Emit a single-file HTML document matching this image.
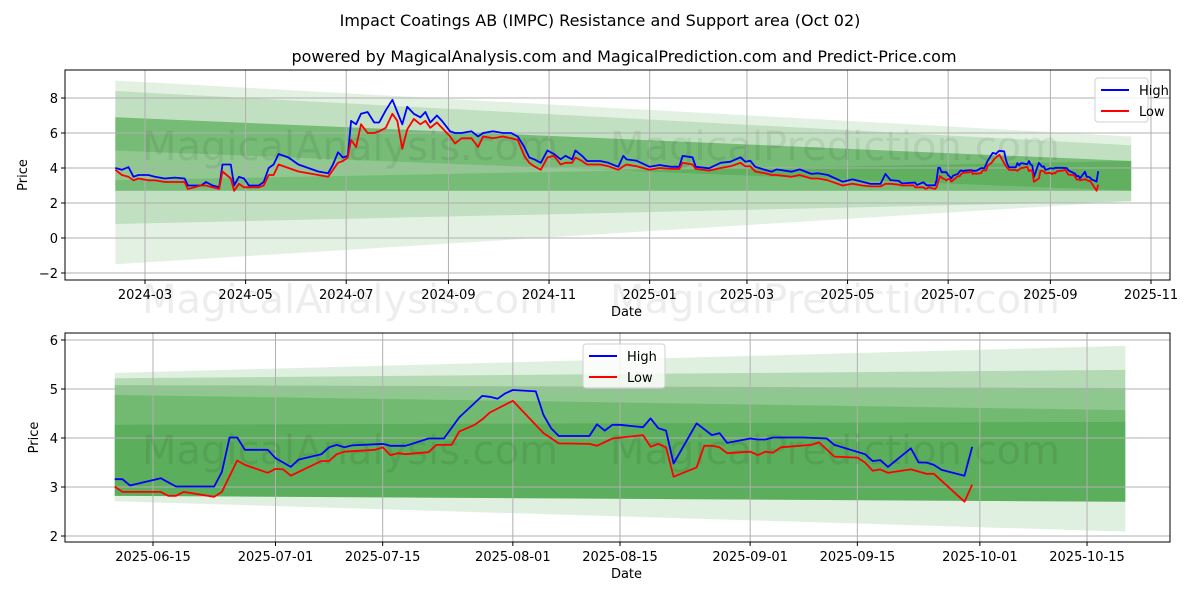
<!DOCTYPE html>
<html><head><meta charset="utf-8">
<style>
html,body{margin:0;padding:0;background:#fff;}
svg{display:block;font-family:"DejaVu Sans","Liberation Sans",sans-serif;}
</style></head>
<body>
<svg id="chart" width="1200" height="600" viewBox="0 0 1200 600" xmlns="http://www.w3.org/2000/svg">
<text x="600" y="26" font-size="16" text-anchor="middle">Impact Coatings AB (IMPC) Resistance and Support area (Oct 02)</text>
<text x="624" y="62" font-size="16" text-anchor="middle">powered by MagicalAnalysis.com and MagicalPrediction.com and Predict-Price.com</text>
<g id="top"></g>
<g id="bot"></g>
</svg>
<script>
// ---------- TOP CHART DATA ----------
const topEarlyDates = ["2024-02-12","2024-02-16","2024-02-20","2024-02-23","2024-02-26","2024-03-03","2024-03-07","2024-03-13","2024-03-19","2024-03-25","2024-03-27","2024-04-04","2024-04-07","2024-04-11","2024-04-15","2024-04-17","2024-04-22","2024-04-24","2024-04-27","2024-04-30","2024-05-03","2024-05-09","2024-05-12","2024-05-15","2024-05-18","2024-05-21","2024-05-27","2024-06-02","2024-06-08","2024-06-14","2024-06-20","2024-06-23","2024-06-26","2024-06-29","2024-07-02","2024-07-04","2024-07-07","2024-07-10","2024-07-14","2024-07-18","2024-07-21","2024-07-25","2024-07-29","2024-08-01","2024-08-04","2024-08-07","2024-08-11","2024-08-15","2024-08-18","2024-08-21","2024-08-25","2024-08-28","2024-09-02","2024-09-05","2024-09-09","2024-09-15","2024-09-19","2024-09-22","2024-09-28","2024-10-04","2024-10-09","2024-10-13","2024-10-17","2024-10-20","2024-10-23","2024-10-27","2024-10-31","2024-11-04","2024-11-08","2024-11-11","2024-11-15","2024-11-17","2024-11-21","2024-11-24","2024-12-02","2024-12-07","2024-12-13","2024-12-16","2024-12-18","2024-12-24","2025-01-01","2025-01-07","2025-01-14","2025-01-19","2025-01-21","2025-01-27","2025-01-29","2025-02-06","2025-02-13","2025-02-19","2025-02-25","2025-02-28","2025-03-03","2025-03-06","2025-03-12","2025-03-16","2025-03-19","2025-03-28","2025-04-02","2025-04-09","2025-04-13","2025-04-19","2025-04-28","2025-05-04","2025-05-10","2025-05-15","2025-05-21","2025-05-24","2025-05-27","2025-06-01","2025-06-03"];
const topEarlyHigh = [4.0,3.9,4.05,3.5,3.6,3.6,3.5,3.4,3.45,3.4,3.0,3.0,3.2,3.0,2.9,4.2,4.2,3.0,3.5,3.4,3.0,3.0,3.2,4.0,4.2,4.8,4.6,4.2,4.0,3.8,3.7,4.2,4.9,4.6,4.7,6.7,6.5,7.1,7.2,6.6,6.6,7.3,7.9,7.2,6.5,7.5,7.1,6.9,7.2,6.6,7.0,6.7,6.1,6.0,6.0,6.1,5.8,6.0,6.1,6.0,6.0,5.8,5.2,4.6,4.5,4.3,5.0,4.8,4.5,4.7,4.5,5.0,4.7,4.4,4.4,4.3,4.07,4.69,4.49,4.42,4.07,4.17,4.07,4.07,4.69,4.61,4.07,3.98,4.30,4.36,4.61,4.36,4.42,4.07,3.89,3.79,3.92,3.79,3.92,3.66,3.70,3.60,3.22,3.35,3.22,3.09,3.09,3.66,3.31,3.26,3.12];
const topEarlyLow = [3.9,3.6,3.5,3.3,3.4,3.3,3.3,3.2,3.2,3.2,2.8,3.0,3.0,2.9,2.8,3.8,3.4,2.7,3.1,2.9,2.9,2.9,3.0,3.6,3.6,4.2,4.0,3.8,3.7,3.6,3.5,3.9,4.3,4.4,4.6,5.6,5.2,6.5,6.0,6.0,6.1,6.3,7.1,6.7,5.1,6.2,6.8,6.5,6.7,6.3,6.6,6.3,5.8,5.4,5.7,5.7,5.2,5.8,5.7,5.8,5.7,5.6,4.7,4.3,4.1,3.9,4.6,4.7,4.2,4.3,4.3,4.6,4.4,4.2,4.2,4.1,3.9,4.1,4.2,4.1,3.9,4.0,3.95,3.95,4.3,4.2,3.95,3.85,4.0,4.1,4.3,4.1,4.1,3.8,3.7,3.6,3.6,3.5,3.6,3.4,3.4,3.3,3.0,3.1,3.0,2.95,2.95,3.1,3.1,3.05,3.0];
const topXTicks = ["2024-03","2024-05","2024-07","2024-09","2024-11","2025-01","2025-03","2025-05","2025-07","2025-09","2025-11"];
const topYTicks = [-2,0,2,4,6,8];
const topBandStart = "2024-02-12", topBandEnd = "2025-10-20";
const topBandsStartLow  = [-1.5,0.8,2.7,5.0,2.7];
const topBandsStartHigh = [9.0,8.4,6.9,6.9,3.3];
const topBandsEndLow    = [2.1,2.1,2.7,2.7,2.7];
const topBandsEndHigh   = [5.8,5.3,4.4,4.4,4.4];
const topBandsAlpha     = [0.11,0.15,0.25,0.18,0.18];

// ---------- BOTTOM CHART DATA ----------
const botHighDates = ["2025-06-10","2025-06-11","2025-06-12","2025-06-16","2025-06-18","2025-06-23","2025-06-24","2025-06-25","2025-06-26","2025-06-27","2025-06-30","2025-07-01","2025-07-03","2025-07-04","2025-07-07","2025-07-08","2025-07-09","2025-07-10","2025-07-11","2025-07-15","2025-07-16","2025-07-18","2025-07-21","2025-07-23","2025-07-25","2025-07-28","2025-07-29","2025-07-30","2025-07-31","2025-08-01","2025-08-04","2025-08-05","2025-08-06","2025-08-07","2025-08-11","2025-08-12","2025-08-13","2025-08-14","2025-08-15","2025-08-18","2025-08-19","2025-08-20","2025-08-21","2025-08-22","2025-08-25","2025-08-27","2025-08-28","2025-08-29","2025-09-01","2025-09-02","2025-09-03","2025-09-04","2025-09-08","2025-09-11","2025-09-12","2025-09-16","2025-09-17","2025-09-18","2025-09-19","2025-09-22","2025-09-23","2025-09-24","2025-09-25","2025-09-26","2025-09-29","2025-09-30"];
const botHigh = [3.16,3.16,3.03,3.18,3.01,3.01,3.31,4.01,4.01,3.76,3.76,3.59,3.41,3.56,3.67,3.81,3.86,3.81,3.85,3.88,3.84,3.84,3.99,3.99,4.42,4.86,4.84,4.80,4.91,4.98,4.95,4.47,4.20,4.04,4.04,4.28,4.15,4.27,4.27,4.22,4.40,4.20,4.15,3.48,4.30,4.06,4.10,3.90,3.99,3.97,3.97,4.01,4.01,3.99,3.86,3.67,3.53,3.55,3.41,3.79,3.50,3.50,3.45,3.35,3.23,3.82];
const botLowDates = ["2025-06-10","2025-06-11","2025-06-16","2025-06-17","2025-06-18","2025-06-19","2025-06-23","2025-06-24","2025-06-26","2025-06-27","2025-06-30","2025-07-01","2025-07-02","2025-07-03","2025-07-07","2025-07-08","2025-07-09","2025-07-10","2025-07-14","2025-07-15","2025-07-16","2025-07-17","2025-07-18","2025-07-21","2025-07-22","2025-07-24","2025-07-25","2025-07-27","2025-07-28","2025-07-29","2025-08-01","2025-08-05","2025-08-07","2025-08-11","2025-08-12","2025-08-14","2025-08-18","2025-08-19","2025-08-20","2025-08-21","2025-08-22","2025-08-25","2025-08-26","2025-08-27","2025-08-28","2025-08-29","2025-09-01","2025-09-02","2025-09-03","2025-09-04","2025-09-05","2025-09-09","2025-09-10","2025-09-12","2025-09-15","2025-09-16","2025-09-17","2025-09-18","2025-09-19","2025-09-22","2025-09-24","2025-09-25","2025-09-29","2025-09-30"];
const botLow = [3.01,2.90,2.90,2.82,2.82,2.90,2.80,2.90,3.54,3.45,3.29,3.37,3.36,3.23,3.53,3.53,3.67,3.72,3.76,3.81,3.65,3.69,3.67,3.71,3.86,3.86,4.13,4.27,4.38,4.52,4.76,4.10,3.89,3.88,3.84,3.99,4.06,3.82,3.88,3.81,3.21,3.40,3.84,3.84,3.81,3.69,3.72,3.65,3.72,3.70,3.81,3.86,3.91,3.62,3.60,3.50,3.33,3.36,3.29,3.36,3.27,3.27,2.70,3.05];
const botXTicks = ["2025-06-15","2025-07-01","2025-07-15","2025-08-01","2025-08-15","2025-09-01","2025-09-15","2025-10-01","2025-10-15"];
const botYTicks = [2,3,4,5,6];
const botBandStart = "2025-06-10", botBandEnd = "2025-10-20";
const botBandsStartLow  = [2.71,2.82,2.82,2.82,2.82];
const botBandsStartHigh = [5.33,5.22,5.08,4.88,4.27];
const botBandsEndLow    = [2.09,2.70,2.70,2.70,2.70];
const botBandsEndHigh   = [5.88,5.39,5.02,4.57,4.33];
const botBandsAlpha     = [0.12,0.2,0.2,0.2,0.2];

const NS="http://www.w3.org/2000/svg";
function mk(tag, attrs, parent){const e=document.createElementNS(NS,tag);for(const k in attrs)e.setAttribute(k,attrs[k]);parent.appendChild(e);return e;}
function ms(s){const p=s.split("-").map(Number);return Date.UTC(p[0],p[1]-1,p[2]||1);}
const DAY=86400000;

function drawChart(g, cfg){
  const xs = d => cfg.x0px + (ms(d)-ms(cfg.x0date))/DAY*cfg.pxPerDay;
  const ys = v => cfg.y0px - (v-cfg.y0val)*cfg.pxPerUnit;
  // bands
  for(let i=0;i<cfg.bSL.length;i++){
    const xa=xs(cfg.bStart), xb=xs(cfg.bEnd);
    const p=mk("polygon",{points:`${xa},${ys(cfg.bSH[i])} ${xb},${ys(cfg.bEH[i])} ${xb},${ys(cfg.bEL[i])} ${xa},${ys(cfg.bSL[i])}`,fill:"#008000","fill-opacity":cfg.bA[i]},g);
    
    
  }
  // grid
  cfg.xt.forEach(t=>{const x=xs(t);
    const l=mk("line",{x1:x,x2:x,y1:cfg.top,y2:cfg.bottom,stroke:"#b0b0b0","stroke-width":1},g);
    
    
    mk("line",{x1:x,x2:x,y1:cfg.bottom,y2:cfg.bottom+4,stroke:"#000"},g);
    const tx=mk("text",{x:x,y:cfg.bottom+19,"font-size":13,"text-anchor":"middle"},g);tx.textContent=t;
    
    
  });
  cfg.yt.forEach(v=>{const y=ys(v);
    const l=mk("line",{x1:cfg.left,x2:cfg.right,y1:y,y2:y,stroke:"#b0b0b0","stroke-width":1},g);
    
    
    mk("line",{x1:cfg.left-4,x2:cfg.left,y1:y,y2:y,stroke:"#000"},g);
    const tx=mk("text",{x:cfg.left-7,y:y+5,"font-size":13,"text-anchor":"end"},g);tx.textContent=(v<0?"\u2212"+(-v):String(v));
    
    
  });
  // watermarks
  cfg.wm.forEach(w=>{const t=mk("text",{x:w[0],y:w[1],"font-size":40,"text-anchor":"middle",fill:"#000","fill-opacity":0.07},g);t.textContent=w[2];
    
    });
  // lines
  function line(dates, vals, color, name){
    const pts=dates.map((d,i)=>xs(d).toFixed(1)+","+ys(vals[i]).toFixed(1)).join(" ");
    const p=mk("polyline",{points:pts,fill:"none",stroke:color,"stroke-width":1.8,"stroke-linejoin":"round"},g);
    
    
  }
  line(cfg.hd,cfg.hv,"#0000ff","high-line");
  line(cfg.ld,cfg.lv,"#ff0000","low-line");
  // frame
  const f=mk("rect",{x:cfg.left,y:cfg.top,width:cfg.right-cfg.left,height:cfg.bottom-cfg.top,fill:"none",stroke:"#000","stroke-width":1},g);
  
  
  // axis labels
  const xl=mk("text",{x:(cfg.left+cfg.right)/2+9,y:cfg.bottom+36,"font-size":13,"text-anchor":"middle"},g);xl.textContent="Date";
  
  
  const yx=cfg.ylabX, yy=(cfg.top+cfg.bottom)/2;
  const yl=mk("text",{x:yx,y:yy,"font-size":13,"text-anchor":"middle",transform:`rotate(-90 ${yx} ${yy})`},g);yl.textContent="Price";
  
  
  // legend
  const L=cfg.leg;
  const lg=mk("g",{},g);
  
  
  mk("rect",{x:L[0],y:L[1],width:L[2],height:44,rx:3,fill:"#fff","fill-opacity":0.8,stroke:"#d0d0d0"},lg);
  [["High","#0000ff"],["Low","#ff0000"]].forEach((e,i)=>{
    const y=L[1]+12+i*21;
    mk("line",{x1:L[0]+6,x2:L[0]+34,y1:y,y2:y,stroke:e[1],"stroke-width":2},lg);
    const t=mk("text",{x:L[0]+44,y:y+5,"font-size":13},lg);t.textContent=e[0];
    
    
  });
}

drawChart(document.getElementById("top"),{
  left:65,right:1170,top:70,bottom:280,
  x0date:"2024-03-01",x0px:145,pxPerDay:1006/610,
  y0val:0,y0px:238,pxPerUnit:17.5,
  xt:topXTicks,yt:topYTicks,
  bStart:topBandStart,bEnd:topBandEnd,bSL:topBandsStartLow,bSH:topBandsStartHigh,bEL:topBandsEndLow,bEH:topBandsEndHigh,bA:topBandsAlpha,
  hd:topEarlyDates.concat(botHighDates),hv:topEarlyHigh.concat(botHigh),
  ld:topEarlyDates.concat(botLowDates),lv:topEarlyLow.concat(botLow),
  wm:[[350,160,"MagicalAnalysis.com"],[835,160,"MagicalPrediction.com"],[350,313,"MagicalAnalysis.com"],[835,313,"MagicalPrediction.com"]],
  ylabX:27,leg:[1095,78,53]
});
drawChart(document.getElementById("bot"),{
  left:65,right:1170,top:333,bottom:542,
  x0date:"2025-06-15",x0px:153,pxPerDay:7.656,
  y0val:2,y0px:536,pxPerUnit:49,
  xt:botXTicks,yt:botYTicks,
  bStart:botBandStart,bEnd:botBandEnd,bSL:botBandsStartLow,bSH:botBandsStartHigh,bEL:botBandsEndLow,bEH:botBandsEndHigh,bA:botBandsAlpha,
  hd:botHighDates,hv:botHigh,ld:botLowDates,lv:botLow,
  wm:[[350,464,"MagicalAnalysis.com"],[835,464,"MagicalPrediction.com"]],
  ylabX:38,leg:[583,344,82]
});
</script>
</body></html>
